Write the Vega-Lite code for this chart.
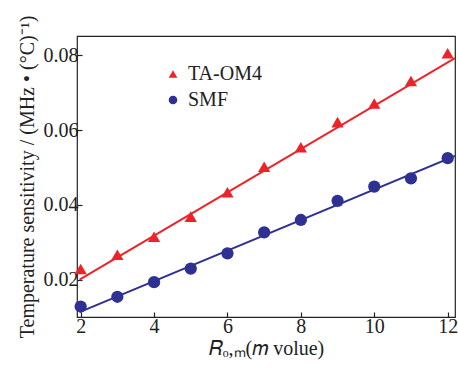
{
  "$schema": "https://vega.github.io/schema/vega-lite/v6.json",
  "width": 378,
  "height": 281,
  "autosize": "none",
  "padding": {"left": 77, "top": 36, "right": 3, "bottom": 51},
  "background": "white",
  "config": {
    "view": {"stroke": "#222", "strokeWidth": 1.2},
    "font": "Liberation Serif",
    "axis": {
      "grid": false,
      "domain": false,
      "tickColor": "#222",
      "tickSize": -5,
      "tickWidth": 1.2,
      "labelFont": "Liberation Serif",
      "labelFontSize": 20,
      "labelColor": "#222",
      "titleFont": "Liberation Serif",
      "titleFontSize": 20,
      "titleFontWeight": "normal",
      "titleColor": "#222"
    }
  },
  "datasets": {
    "pts": [
      {"series": "TA-OM4", "m": 2, "s": 0.0229},
      {"series": "TA-OM4", "m": 3, "s": 0.0267},
      {"series": "TA-OM4", "m": 4, "s": 0.0315},
      {"series": "TA-OM4", "m": 5, "s": 0.0369},
      {"series": "TA-OM4", "m": 6, "s": 0.0434},
      {"series": "TA-OM4", "m": 7, "s": 0.0502},
      {"series": "TA-OM4", "m": 8, "s": 0.0554},
      {"series": "TA-OM4", "m": 9, "s": 0.0621},
      {"series": "TA-OM4", "m": 10, "s": 0.0671},
      {"series": "TA-OM4", "m": 11, "s": 0.0731},
      {"series": "TA-OM4", "m": 12, "s": 0.0805},
      {"series": "SMF", "m": 2, "s": 0.0129},
      {"series": "SMF", "m": 3, "s": 0.0155},
      {"series": "SMF", "m": 4, "s": 0.0194},
      {"series": "SMF", "m": 5, "s": 0.0230},
      {"series": "SMF", "m": 6, "s": 0.0271},
      {"series": "SMF", "m": 7, "s": 0.0327},
      {"series": "SMF", "m": 8, "s": 0.0360},
      {"series": "SMF", "m": 9, "s": 0.0411},
      {"series": "SMF", "m": 10, "s": 0.0449},
      {"series": "SMF", "m": 11, "s": 0.0471},
      {"series": "SMF", "m": 12, "s": 0.0525}
    ],
    "fitTA": [
      {"m": 1.97, "s": 0.0201},
      {"m": 12.2, "s": 0.0792}
    ],
    "fitSMF": [
      {"m": 1.97, "s": 0.0114},
      {"m": 12.2, "s": 0.0531}
    ]
  },
  "layer": [
    {
      "data": {"name": "fitTA"},
      "mark": {"type": "line", "strokeWidth": 2, "color": "#ee2228", "clip": true},
      "encoding": {
        "x": {"field": "m", "type": "quantitative"},
        "y": {"field": "s", "type": "quantitative"}
      }
    },
    {
      "data": {"name": "fitSMF"},
      "mark": {"type": "line", "strokeWidth": 2, "color": "#2e3192", "clip": true},
      "encoding": {
        "x": {"field": "m", "type": "quantitative"},
        "y": {"field": "s", "type": "quantitative"}
      }
    },
    {
      "data": {"name": "pts"},
      "mark": {"type": "point", "filled": true, "opacity": 1, "size": 150, "clip": false},
      "encoding": {
        "x": {
          "field": "m",
          "type": "quantitative",
          "scale": {"domain": [1.9, 12.2], "nice": false, "zero": false},
          "axis": {
            "values": [2, 4, 6, 8, 10, 12],
            "labelPadding": 4,
            "title": "𝑅ₒ,ₘ(𝑚 volue)",
            "titlePadding": 2
          }
        },
        "y": {
          "field": "s",
          "type": "quantitative",
          "scale": {"domain": [0.0101, 0.0851], "nice": false, "zero": false},
          "axis": {
            "values": [0.02, 0.04, 0.06, 0.08],
            "format": ".2f",
            "labelPadding": 4,
            "title": "Temperature sensitivity / (MHz • (°C)⁻¹)",
            "titlePadding": 6
          }
        },
        "color": {
          "field": "series",
          "type": "nominal",
          "scale": {"domain": ["TA-OM4", "SMF"], "range": ["#ee2228", "#2e3192"]},
          "legend": {
            "title": null,
            "orient": "none",
            "legendX": 86,
            "legendY": 28,
            "labelFont": "Liberation Serif",
            "labelFontSize": 20,
            "labelColor": "#222",
            "symbolSize": 75,
            "rowPadding": 6,
            "labelOffset": 5
          }
        },
        "shape": {
          "field": "series",
          "type": "nominal",
          "scale": {"domain": ["TA-OM4", "SMF"], "range": ["triangle-up", "circle"]}
        }
      }
    }
  ]
}
